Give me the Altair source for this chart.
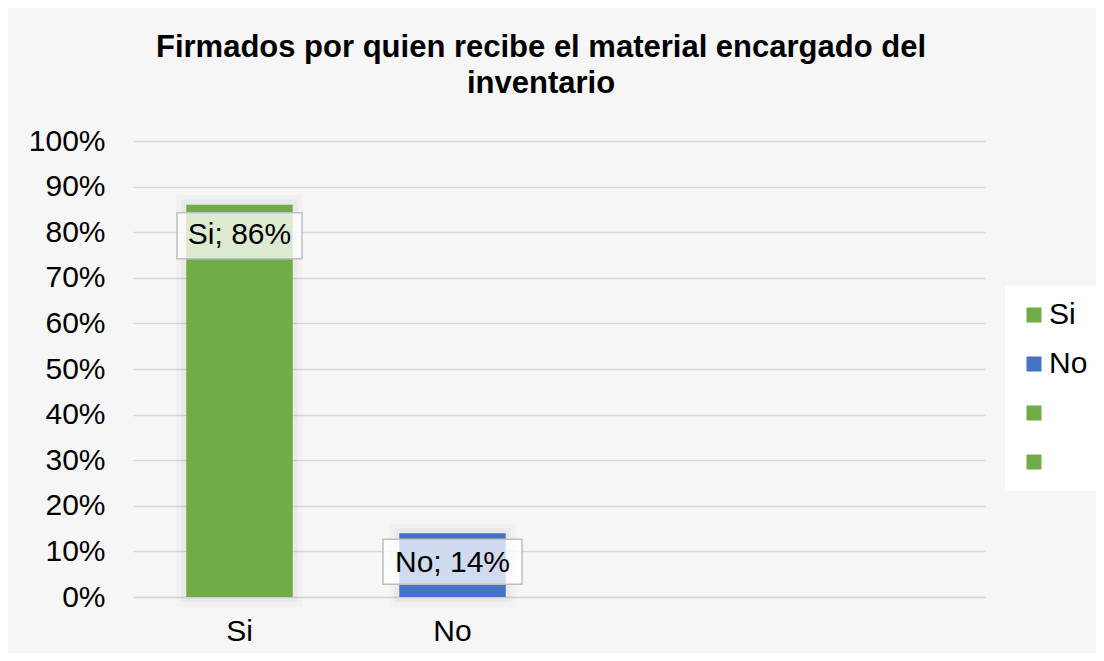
import altair as alt
import pandas as pd

# ---- data ----
categories = ["Si", "No", " ", "  "]
values = [0.86, 0.14, None, None]
bar_colors = ["#70AD47", "#4472C4", "#70AD47", "#70AD47"]
y_ticks = [0, 0.1, 0.2, 0.3, 0.4, 0.5, 0.6, 0.7, 0.8, 0.9, 1.0]
title_lines = ["Firmados por quien recibe el material encargado del", "inventario"]

df = pd.DataFrame({"cat": categories, "val": values})

FONT = "Liberation Sans"
GRID = "#d9d9d9"

x_enc = alt.X(
    "cat:N",
    sort=categories,
    scale=alt.Scale(domain=categories, paddingInner=0.5, paddingOuter=0.25),
    axis=alt.Axis(
        title=None, labelFontSize=30, labelFont=FONT, labelColor="#000",
        labelPadding=19, labelAngle=0, ticks=False,
        domainColor=GRID, domainWidth=1.3, grid=False,
    ),
)
y_enc = alt.Y(
    "val:Q",
    scale=alt.Scale(domain=[0, 1], nice=False),
    axis=alt.Axis(
        title=None, values=y_ticks, format=".0%", labelFontSize=30,
        labelFont=FONT, labelColor="#000", labelPadding=28, ticks=False,
        domain=False, gridColor=GRID, gridWidth=1.3,
    ),
)

base = alt.Chart(df).transform_filter("isValid(datum.val)")

glow1 = base.mark_bar(fillOpacity=0, stroke="#000", strokeOpacity=0.02, strokeWidth=20).encode(x=x_enc, y=y_enc)
glow2 = base.mark_bar(fillOpacity=0, stroke="#000", strokeOpacity=0.03, strokeWidth=10).encode(x=x_enc, y=y_enc)

bars = base.mark_bar().encode(
    x=x_enc,
    y=y_enc,
    color=alt.Color(
        "cat:N",
        scale=alt.Scale(domain=categories, range=bar_colors),
        legend=alt.Legend(
            title=None, orient="none", legendX=872, legendY=145,
            symbolType="square", symbolSize=225, symbolStrokeWidth=0,
            labelFontSize=30, labelFont=FONT, labelColor="#000",
            labelOffset=0, rowPadding=19, padding=14, fillColor="white",
        ),
    ),
)

box_si = base.transform_filter("datum.cat == 'Si'").mark_bar(
    width=125, yOffset=8, y2Offset=54, fill="white", fillOpacity=0.75,
    stroke="#bfbfbf", strokeWidth=1.5,
).encode(x=x_enc, y=y_enc, y2=alt.Y2("val"))

box_no = base.transform_filter("datum.cat == 'No'").mark_bar(
    width=139, yOffset=6, y2Offset=51, fill="white", fillOpacity=0.75,
    stroke="#bfbfbf", strokeWidth=1.5,
).encode(x=x_enc, y=y_enc, y2=alt.Y2("val"))

labels = base.transform_calculate(
    label="datum.cat + '; ' + format(datum.val, '.0%')"
).mark_text(
    fontSize=30, font=FONT, color="#000", dy=30, baseline="middle"
).encode(x=x_enc, y=y_enc, text="label:N")

chart = alt.layer(glow1, glow2, bars, box_si, box_no, labels).properties(
    width=852,
    height=456,
    padding={"left": 125, "top": 133, "right": 111, "bottom": 56},
    autosize=alt.AutoSizeParams(type="none"),
    background="#f6f6f6",
    title=alt.TitleParams(
        text=title_lines, fontSize=31, font=FONT, fontWeight="bold",
        color="#000", anchor="middle", dx=-18, offset=26, lineHeight=36,
    ),
).configure_view(stroke=None)

chart.save("out.html", embed_options={"renderer": "svg", "actions": False})
